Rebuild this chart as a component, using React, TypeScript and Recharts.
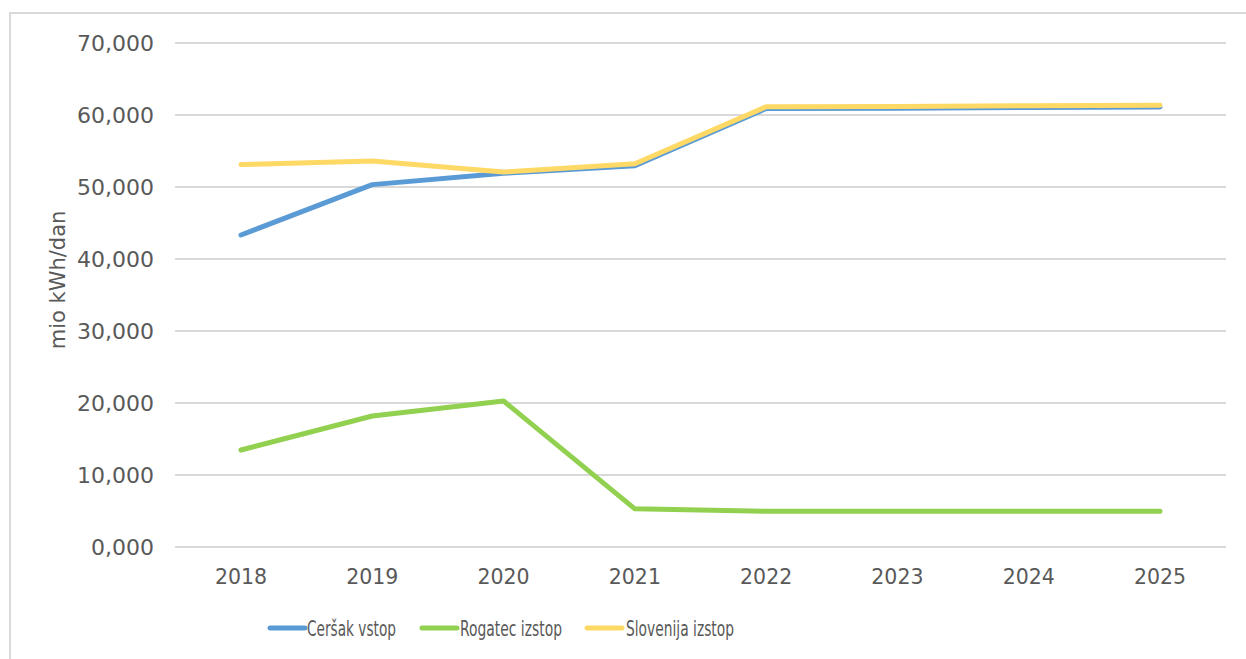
import { LineChart, Line, XAxis, YAxis, CartesianGrid, Legend } from 'recharts'

const years = ['2018', '2019', '2020', '2021', '2022', '2023', '2024', '2025']
const cersak = [43330, 50330, 51900, 52950, 60900, 60950, 61050, 61100]
const rogatec = [13470, 18190, 20280, 5300, 4960, 4960, 4960, 4960]
const slovenija = [53110, 53610, 52080, 53220, 61150, 61170, 61300, 61350]
const yTicks = [0, 10000, 20000, 30000, 40000, 50000, 60000, 70000]

const seriesInfo = [
  { key: 'cersak', name: 'Ceršak vstop', color: '#5B9BD5', textWidth: 89 },
  { key: 'rogatec', name: 'Rogatec izstop', color: '#92D050', textWidth: 102 },
  { key: 'slovenija', name: 'Slovenija izstop', color: '#FFD966', textWidth: 108 },
]

const chartData = years.map((y, i) => ({
  year: y,
  cersak: cersak[i],
  rogatec: rogatec[i],
  slovenija: slovenija[i],
}))

const fmtTick = (v: number) => (v === 0 ? '0,000' : v.toLocaleString('en-US'))

// legend entries: swatch x start, text x start
const legendPos = [
  { sx: 270, tx: 307 },
  { sx: 422, tx: 460 },
  { sx: 587, tx: 626 },
]

function CustomLegend() {
  return (
    <svg width={1246} height={40} style={{ display: 'block' }}>
      {seriesInfo.map((s, i) => (
        <g key={s.key}>
          <line
            x1={legendPos[i].sx}
            x2={legendPos[i].sx + 35}
            y1={20}
            y2={20}
            stroke={s.color}
            strokeWidth={5}
            strokeLinecap="round"
          />
          <text
            x={legendPos[i].tx}
            y={28}
            fontSize={22}
            fill="#595959"
            fontFamily="DejaVu Sans"
            textLength={s.textWidth}
            lengthAdjust="spacingAndGlyphs"
          >
            {s.name}
          </text>
        </g>
      ))}
    </svg>
  )
}

function AxisTitle({ viewBox }: any) {
  const cx = viewBox.x + 65
  const cy = viewBox.y + viewBox.height / 2 - 15
  return (
    <text
      x={cx}
      y={cy}
      transform={`rotate(-90, ${cx}, ${cy})`}
      textAnchor="middle"
      fontSize={21}
      fill="#595959"
      fontFamily="DejaVu Sans"
    >
      mio kWh/dan
    </text>
  )
}

export default function App() {
  return (
    <div style={{ position: 'absolute', left: 0, top: 0, width: 1246, height: 659, background: '#fff', overflow: 'hidden', fontFamily: 'DejaVu Sans' }}>
      <div
        style={{
          position: 'absolute',
          left: 9,
          top: 12,
          width: 1260,
          height: 680,
          border: '2px solid #D9D9D9',
          boxSizing: 'border-box',
        }}
      />
      <div style={{ position: 'absolute', left: 0, top: 0 }}>
        <LineChart
          width={1246}
          height={659}
          data={chartData}
          margin={{ top: 43, right: 20, bottom: 0, left: 0 }}
        >
          <CartesianGrid vertical={false} stroke="#D9D9D9" strokeWidth={2} />
          <XAxis
            dataKey="year"
            axisLine={false}
            tickLine={false}
            tick={{ fill: '#595959', fontSize: 20.5 }}
            tickMargin={16}
            height={112}
            padding={{ left: 66, right: 66 }}
          />
          <YAxis
            domain={[0, 70000]}
            ticks={yTicks}
            tickFormatter={fmtTick}
            axisLine={false}
            tickLine={false}
            tick={{ fill: '#595959', fontSize: 22 }}
            tickMargin={15}
            width={175}
            label={<AxisTitle />}
          />
          <Legend
            layout="horizontal"
            verticalAlign="middle"
            content={<CustomLegend />}
            wrapperStyle={{ position: 'absolute', top: 608, left: 0, width: 1246, height: 40 }}
          />
          {seriesInfo.map(s => (
            <Line
              key={s.key}
              dataKey={s.key}
              name={s.name}
              type="linear"
              stroke={s.color}
              strokeWidth={5}
              strokeLinecap="round"
              strokeLinejoin="round"
              dot={false}
              isAnimationActive={false}
            />
          ))}
        </LineChart>
      </div>
    </div>
  )
}
